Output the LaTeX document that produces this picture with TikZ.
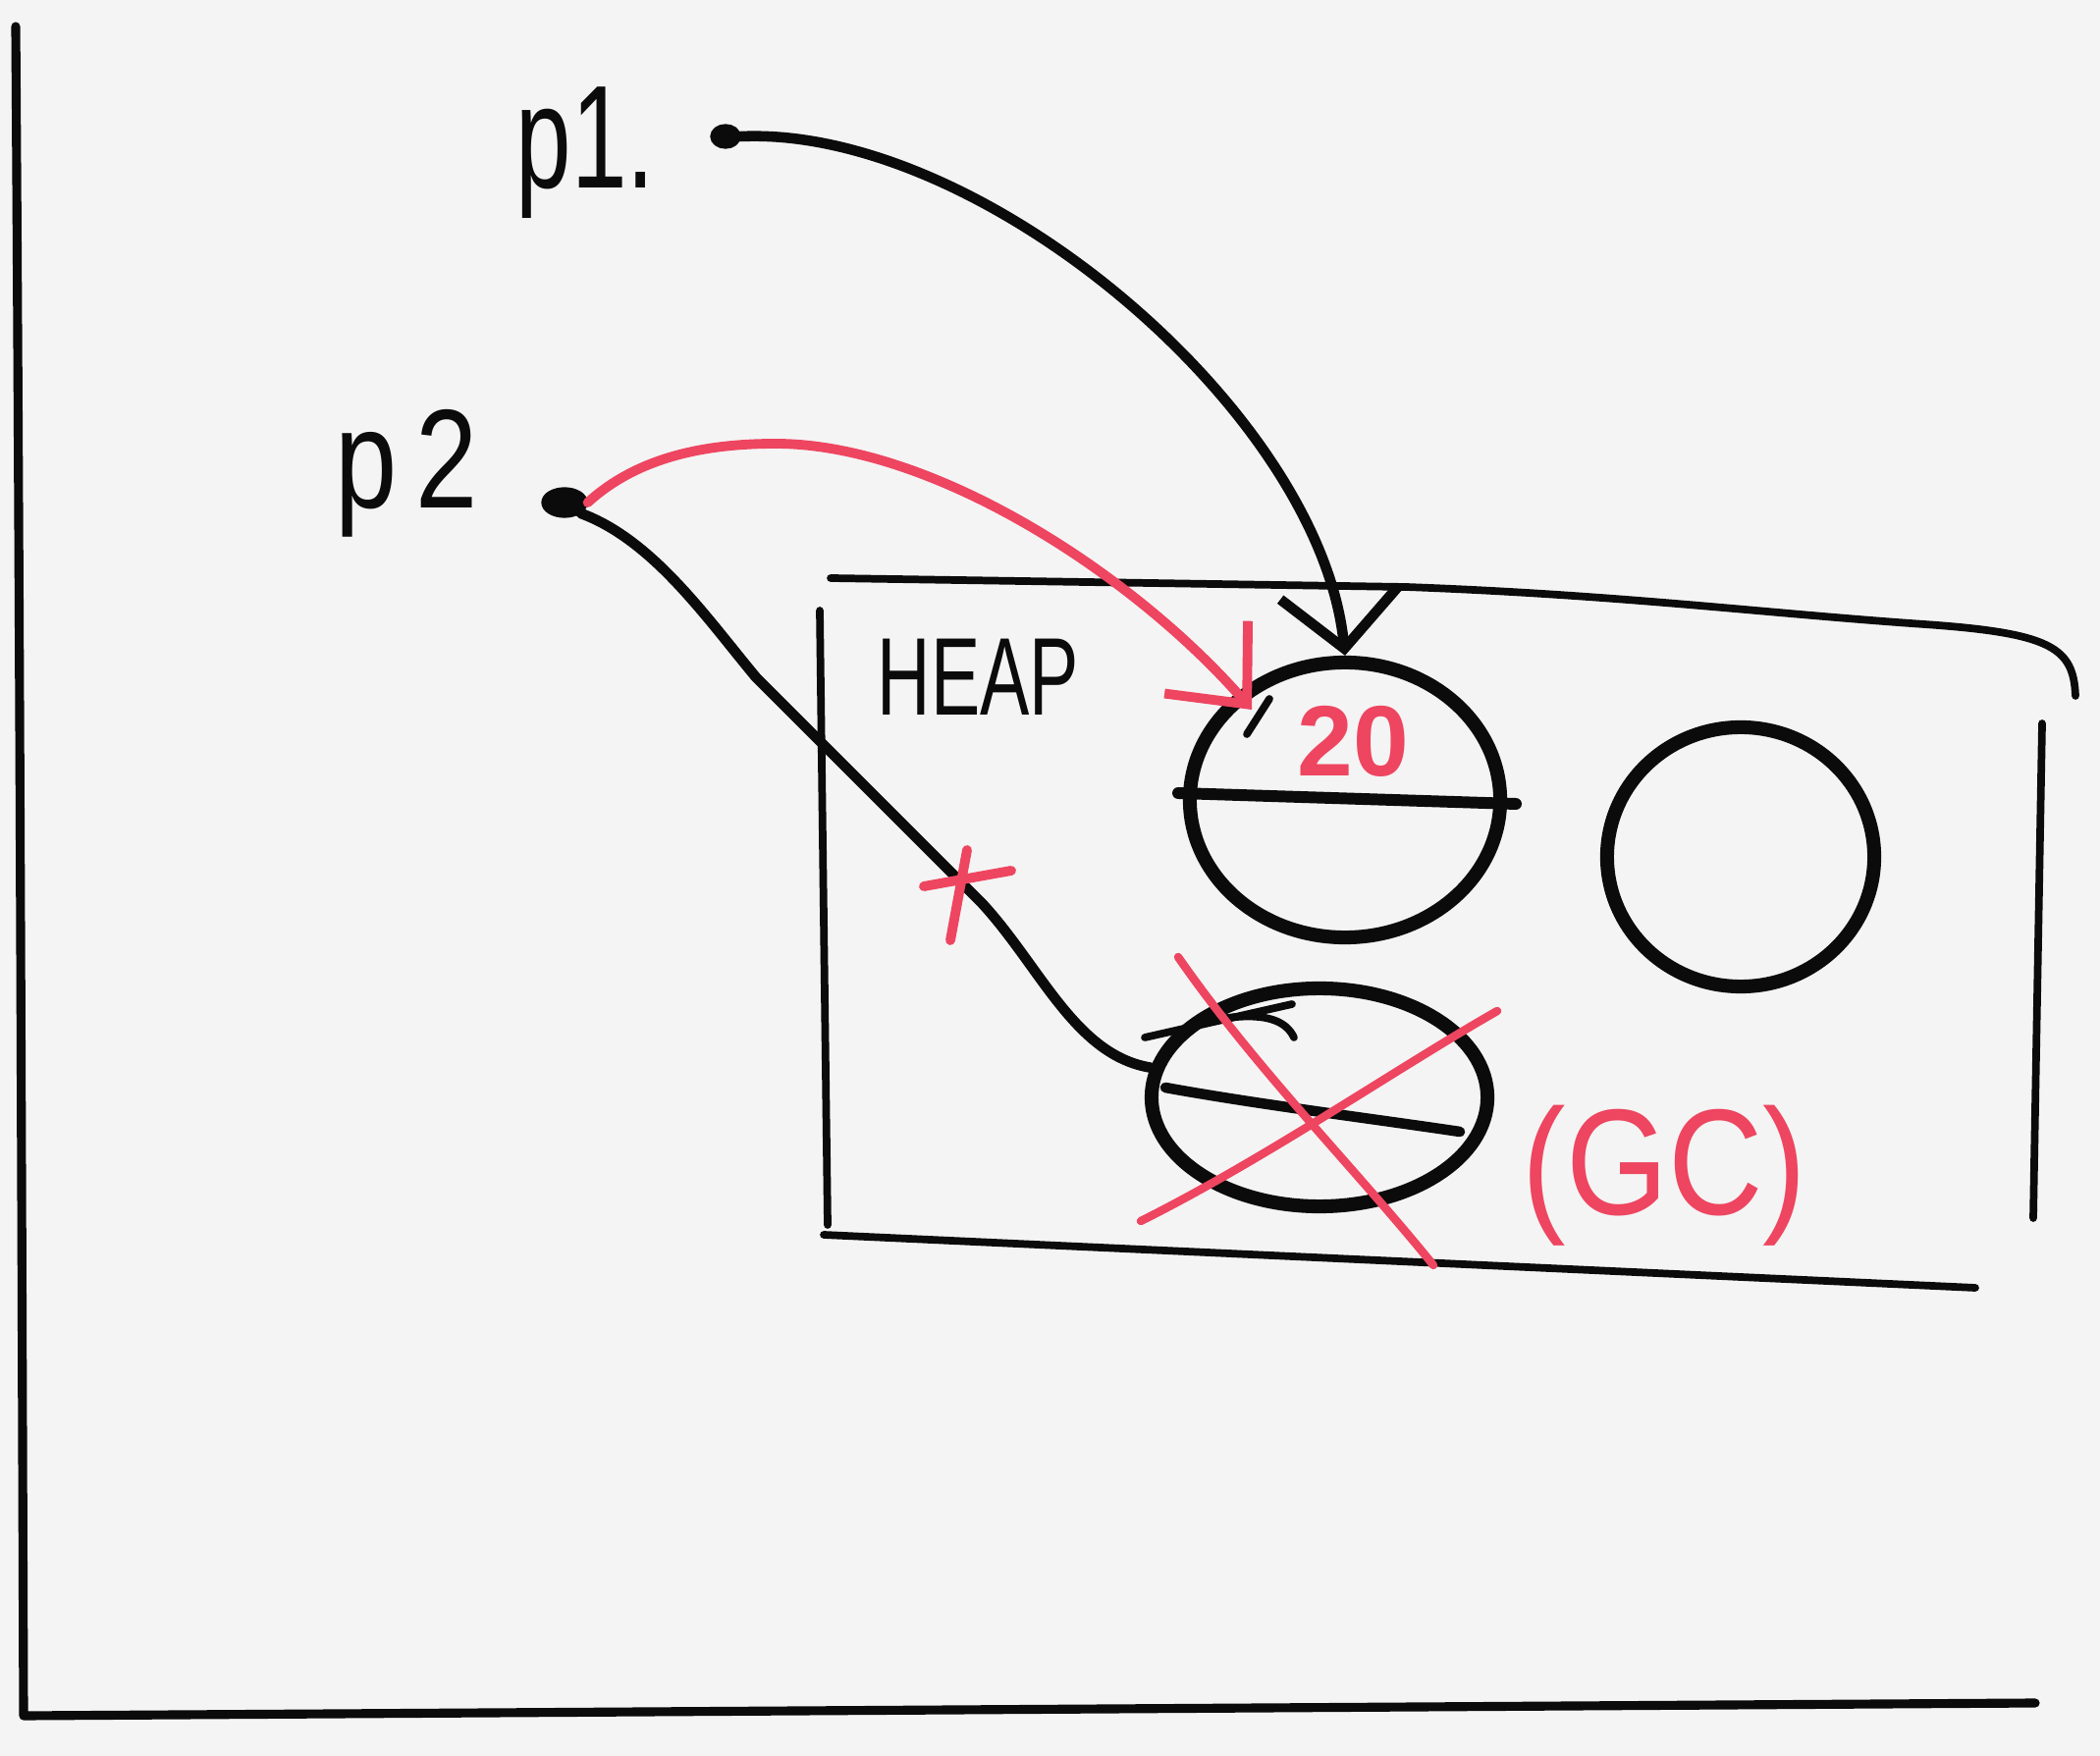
\documentclass[tikz,border=0pt]{standalone}
\usepackage{fontspec}
\setmainfont{Liberation Sans}
\usetikzlibrary{arrows.meta,shapes.geometric,calc}
\definecolor{paper}{HTML}{F4F4F4}
\definecolor{ink}{HTML}{0B0B0B}
\definecolor{pen}{HTML}{EE4560}

\begin{document}
\begin{tikzpicture}[x=0.01cm,y=-0.01cm,
  inkline/.style={draw=ink, line width=3pt, line cap=round, line join=round},
  thinink/.style={draw=ink, line width=2.2pt, line cap=round, line join=round},
  penline/.style={draw=pen, line width=2.8pt, line cap=round, line join=round},
  blob/.style={ellipse, draw=ink, line width=4pt, inner sep=0pt},
  ptrdot/.style={ellipse, draw=ink, fill=ink, line width=1.5pt, inner sep=0pt},
  lbl/.style={inner sep=0pt, text=ink},
  redlbl/.style={inner sep=0pt, text=pen}
]
% page
\fill[paper] (0,0) rectangle (2139,1789);
\useasboundingbox (0,0) rectangle (2139,1789);

% axes of the memory picture
\coordinate (axtop) at (16,27);
\coordinate (axcorner) at (24,1748);
\coordinate (axend) at (2073,1735);
\draw[inkline, line width=2.6pt] (axtop) .. controls (20,600) and (22,1200) .. (axcorner) -- (axend);

% pointer variables
\node[lbl, anchor=base west, font=\fontsize{34}{36}\selectfont] (p1lbl) at (525,192) {\scalebox{0.85}[1.25]{p1.}};
\node[ptrdot, minimum width=0.26cm, minimum height=0.2cm] (p1dot) at (739,139) {};
\node[lbl, anchor=base west, font=\fontsize{34}{36}\selectfont] (p2lbl) at (341,518) {\scalebox{0.95}[1.2]{p\,2}};
\node[ptrdot, minimum width=0.42cm, minimum height=0.26cm] (p2dot) at (575,512) {};

% heap area
\coordinate (h1) at (846,589);
\coordinate (h2) at (1432,598);
\coordinate (h4) at (2114,709);
\draw[thinink] (h1) -- (h2) .. controls (1650,606) and (1800,625) .. (1960,636)
  .. controls (2090,645) and (2112,660) .. (h4);
\coordinate (l1) at (835,622);
\coordinate (l2) at (843,1248);
\draw[thinink] (l1) -- (l2);
\coordinate (b1) at (839,1258);
\coordinate (b2) at (2012,1312);
\draw[thinink] (b1) -- (b2);
\coordinate (r1) at (2080,737);
\coordinate (r2) at (2071,1241);
\draw[thinink] (r1) -- (r2);
\node[lbl, anchor=base west, font=\fontsize{32}{34}\selectfont] (heaplbl) at (893,729) {\scalebox{0.67}[1]{HEAP}};

% objects on the heap
\node[blob, minimum width=3.16cm, minimum height=2.8cm] (obj20) at (1370,815) {};
\node[blob, minimum width=2.72cm, minimum height=2.64cm] (objfree) at (1773,873) {};
\node[blob, minimum width=3.42cm, minimum height=2.22cm] (objgc) at (1344,1118) {};
\coordinate (obj20in) at ($(obj20.center)+(-95,-92)$);

% field separators
\coordinate (s1) at (1200,808);
\coordinate (s2) at (1544,819);
\draw[inkline, line width=3.4pt] (s1) -- (s2);
\coordinate (g1) at (1187,1108);
\coordinate (g2) at (1487,1153);
\draw[inkline] (g1) .. controls (1280,1125) and (1400,1140) .. (g2);
\coordinate (g3) at (1166,1057);
\coordinate (g4) at (1316,1023);
\draw[thinink] (g3) -- (g4);
\draw[thinink] (1250,1037) .. controls (1290,1032) and (1310,1040) .. (1318,1057);
\draw[thinink] (1270,748) -- (1293,712);

% value stored in the first object
\node[redlbl, anchor=base, font=\fontsize{29}{32}\selectfont] (val) at (1378,791) {\textbf{20}};

% references
\draw[inkline, -{Straight Barb[length=16pt,width=34pt,line width=3pt]}]
  (p1dot.east) .. controls (1000,128) and (1345,420) .. (obj20.north);
\draw[penline, -{Straight Barb[length=18pt,width=32pt,line width=2.8pt]}]
  (p2dot.east) .. controls (650,465) and (720,452) .. (790,452)
  .. controls (950,452) and (1155,585) .. (obj20in);
\draw[inkline] (p2dot.south east) .. controls (665,550) and (720,630) .. (770,690)
  -- (1000,920) .. controls (1060,985) and (1095,1075) .. (objgc.170);

% cut reference
\coordinate (x1) at (941,903);
\coordinate (x2) at (1030,887);
\coordinate (x3) at (985,866);
\coordinate (x4) at (968,958);
\draw[penline] (x1) -- (x2);
\draw[penline] (x3) -- (x4);

% collected object
\coordinate (c1) at (1200,975);
\coordinate (c2) at (1460,1289);
\coordinate (c3) at (1162,1244);
\coordinate (c4) at (1525,1030);
\draw[penline, line width=2.4pt] (c1) .. controls (1280,1090) and (1380,1190) .. (c2);
\draw[penline, line width=2.4pt] (c3) .. controls (1290,1180) and (1420,1090) .. (c4);
\node[redlbl, anchor=base west, font=\fontsize{38}{40}\selectfont] (gclbl) at (1550,1238) {\scalebox{1}[1.15]{(GC)}};
\end{tikzpicture}
\end{document}
